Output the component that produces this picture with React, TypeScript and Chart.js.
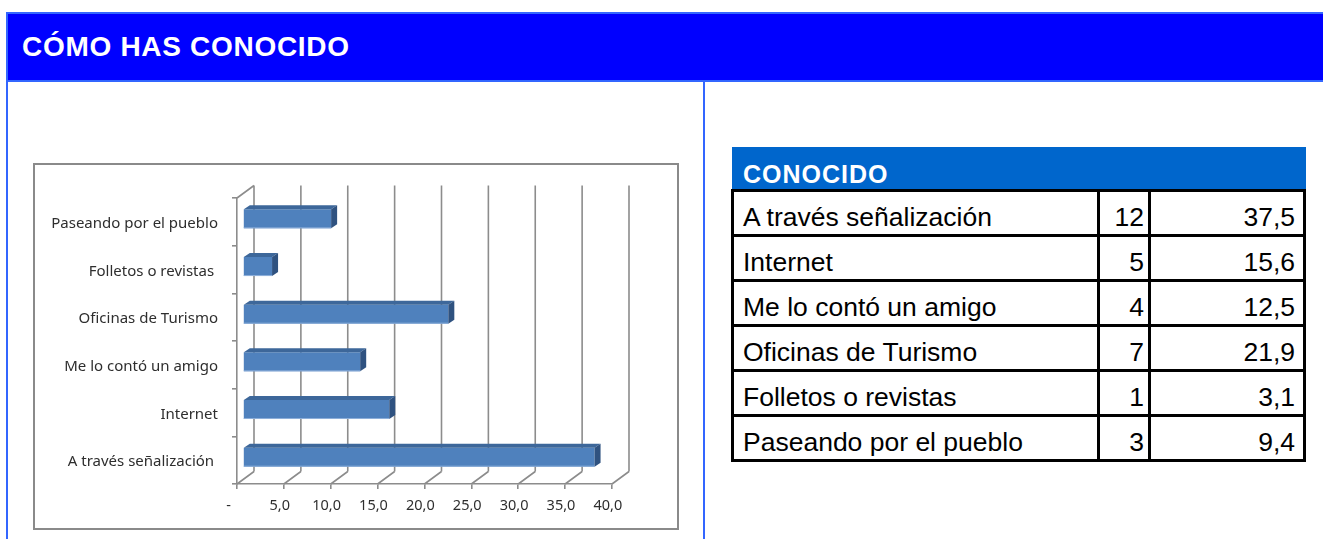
import React, { useEffect, useRef } from "react";
import { Chart, registerables } from "chart.js";

Chart.register(...registerables);

// Survey answers, in table order (the chart lists them bottom-up).
const TITLE = "CÓMO HAS CONOCIDO";
const TABLE_TITLE = "CONOCIDO";
const categories = [
  "A través señalización ",
  "Internet",
  "Me lo contó un amigo",
  "Oficinas de Turismo",
  "Folletos o revistas ",
  "Paseando por el pueblo",
];
const counts = [12, 5, 4, 7, 1, 3];
const percents = [37.5, 15.6, 12.5, 21.9, 3.1, 9.4];
const xMin = 0;
const xMax = 40;
const xStep = 5;

// Styling / 3D depth
const GRID = "#8c8c8c";
const LABEL = "#2e2e2e";
const BAR_FRONT = "#4f81bd";
const BAR_TOP = "#3d679a";
const BAR_SIDE = "#2f5280";
const BAR_EDGE = "#8fb0da";
const WALL_DX = 17;
const WALL_DY = -12.5;
const BAR_SHIFT_DX = 6;
const BAR_SHIFT_DY = -3;
const BAR_DEPTH_DX = 6;
const BAR_DEPTH_DY = -4;
const FONT = "'Noto Sans', sans-serif";
const BORDER_BLUE = "#3366ff";
const FIG_SPACE = "\u2007";

const fmt = (v: number) => v.toFixed(1).replace(".", ",");

const depthPlugin = {
  id: "depth3d",
  beforeDatasetsDraw(chart: any) {
    const { ctx, chartArea: a, scales } = chart;
    const xs = scales.x;
    ctx.save();
    ctx.strokeStyle = GRID;
    ctx.lineWidth = 1.6;
    ctx.beginPath();
    xs.ticks.forEach((t: any) => {
      const px = xs.getPixelForValue(t.value);
      // back wall line
      ctx.moveTo(px + WALL_DX, a.top + WALL_DY);
      ctx.lineTo(px + WALL_DX, a.bottom + WALL_DY);
      // floor edge
      ctx.moveTo(px, a.bottom);
      ctx.lineTo(px + WALL_DX, a.bottom + WALL_DY);
    });
    // top edge of the side wall
    ctx.moveTo(a.left, a.top);
    ctx.lineTo(a.left + WALL_DX, a.top + WALL_DY);
    ctx.stroke();
    ctx.restore();
  },
  beforeDatasetDraw(chart: any) {
    chart.ctx.save();
    chart.ctx.translate(BAR_SHIFT_DX, BAR_SHIFT_DY);
  },
  afterDatasetDraw(chart: any, args: any) {
    const ctx = chart.ctx;
    args.meta.data.forEach((bar: any) => {
      const { x, y, base, height } = bar.getProps(["x", "y", "base", "height"], true);
      const top = y - height / 2;
      const bottom = y + height / 2;
      // top face
      ctx.fillStyle = BAR_TOP;
      ctx.beginPath();
      ctx.moveTo(base, top);
      ctx.lineTo(x, top);
      ctx.lineTo(x + BAR_DEPTH_DX, top + BAR_DEPTH_DY);
      ctx.lineTo(base + BAR_DEPTH_DX, top + BAR_DEPTH_DY);
      ctx.closePath();
      ctx.fill();
      // end face
      ctx.fillStyle = BAR_SIDE;
      ctx.beginPath();
      ctx.moveTo(x, top);
      ctx.lineTo(x + BAR_DEPTH_DX, top + BAR_DEPTH_DY);
      ctx.lineTo(x + BAR_DEPTH_DX, bottom + BAR_DEPTH_DY);
      ctx.lineTo(x, bottom);
      ctx.closePath();
      ctx.fill();
      // light lower edge of the front face
      ctx.strokeStyle = BAR_EDGE;
      ctx.lineWidth = 1;
      ctx.beginPath();
      ctx.moveTo(base, bottom - 0.5);
      ctx.lineTo(x, bottom - 0.5);
      ctx.stroke();
    });
    ctx.restore();
  },
};

function BarChart() {
  const ref = useRef<HTMLCanvasElement | null>(null);
  useEffect(() => {
    if (!ref.current) return;
    const labels = [...categories].reverse();
    const values = [...percents].reverse();
    const chart = new Chart(ref.current, {
      type: "bar",
      data: {
        labels,
        datasets: [
          {
            data: values,
            backgroundColor: BAR_FRONT,
            borderWidth: 0,
            barPercentage: 0.4,
            categoryPercentage: 1,
            clip: false as any,
          },
        ],
      },
      options: {
        animation: false,
        responsive: false,
        indexAxis: "y",
        layout: { padding: { top: 33, right: 65, bottom: 0, left: 0 } },
        plugins: { legend: { display: false }, tooltip: { enabled: false } },
        scales: {
          x: {
            type: "linear",
            position: "bottom",
            min: xMin,
            max: xMax,
            ticks: {
              stepSize: xStep,
              autoSkip: false,
              maxRotation: 0,
              color: LABEL,
              padding: 8,
              font: { family: FONT, size: 14.5 },
              callback: (v: any) =>
                Number(v) === 0 ? "-" + FIG_SPACE + FIG_SPACE : fmt(Number(v)) + FIG_SPACE,
            },
            grid: { drawOnChartArea: false, drawTicks: true, tickLength: 5, color: GRID, lineWidth: 1.6 },
            border: { display: true, color: GRID, width: 1.6 },
            afterFit: (s: any) => {
              s.height = 44;
            },
          },
          y: {
            type: "category",
            position: "left",
            ticks: {
              autoSkip: false,
              color: LABEL,
              padding: 14,
              labelOffset: 2,
              font: { family: FONT, size: 15 },
            },
            grid: {
              drawOnChartArea: false,
              drawTicks: true,
              tickLength: 5,
              color: GRID,
              lineWidth: 1.6,
              offset: true,
            },
            border: { display: true, color: GRID, width: 1.6 },
            afterFit: (s: any) => {
              s.width = 202;
            },
          },
        },
      },
      plugins: [depthPlugin],
    });
    return () => chart.destroy();
  }, []);
  return <canvas ref={ref} width={642} height={363} style={{ display: "block" }} />;
}

const abs = (o: React.CSSProperties): React.CSSProperties => ({ position: "absolute", ...o });

export default function App() {
  const tableLeft = 731;
  const tableRight = 1306;
  const rowTop = 190;
  const rowH = 45;
  const colLines = [731, 1097, 1148, 1303];
  const cellText: React.CSSProperties = {
    height: rowH,
    lineHeight: `${rowH}px`,
    fontFamily: "'Liberation Sans', Arial, sans-serif",
    fontSize: 26.5,
    color: "#000",
    whiteSpace: "nowrap",
  };
  return (
    <div style={abs({ left: 0, top: 0, width: 1323, height: 539, background: "#fff", overflow: "hidden" })}>
      {/* heading band */}
      <div
        style={abs({
          left: 6,
          top: 12,
          width: 1330,
          height: 70,
          boxSizing: "border-box",
          border: `2px solid ${BORDER_BLUE}`,
          background: "#0000ff",
        })}
      />
      <div
        style={abs({
          left: 22,
          top: 33,
          lineHeight: "28px",
          fontFamily: "'Liberation Sans', Arial, sans-serif",
          fontWeight: 700,
          fontSize: 28,
          letterSpacing: "0.7px",
          color: "#fff",
          whiteSpace: "nowrap",
        })}
      >
        {TITLE}
      </div>
      {/* panel frame */}
      <div style={abs({ left: 6, top: 82, width: 2, height: 460, background: BORDER_BLUE })} />
      <div style={abs({ left: 703, top: 82, width: 2, height: 460, background: BORDER_BLUE })} />

      {/* chart box */}
      <div
        style={abs({
          left: 33,
          top: 163,
          width: 646,
          height: 367,
          boxSizing: "border-box",
          border: "2px solid #8a8a8a",
          background: "#fff",
        })}
      >
        <BarChart />
      </div>

      {/* table */}
      <div style={abs({ left: 732, top: 147, width: 574, height: 43, background: "#0066cc" })} />
      <div
        style={abs({
          left: 743,
          top: 153,
          lineHeight: "43px",
          fontFamily: "'Liberation Sans', Arial, sans-serif",
          fontWeight: 700,
          fontSize: 25,
          letterSpacing: "1px",
          color: "#fff",
          whiteSpace: "nowrap",
        })}
      >
        {TABLE_TITLE}
      </div>
      {categories.map((c, i) => (
        <React.Fragment key={c}>
          <div style={abs({ ...cellText, left: 743, top: rowTop + rowH * i + 5 })}>{c.trim()}</div>
          <div style={abs({ ...cellText, left: 1100, width: 44, textAlign: "right", top: rowTop + rowH * i + 5 })}>
            {counts[i]}
          </div>
          <div style={abs({ ...cellText, left: 1152, width: 143, textAlign: "right", top: rowTop + rowH * i + 5 })}>
            {fmt(percents[i])}
          </div>
        </React.Fragment>
      ))}
      {Array.from({ length: categories.length + 1 }, (_, i) => (
        <div
          key={"h" + i}
          style={abs({
            left: tableLeft,
            top: rowTop - 1 + rowH * i,
            width: tableRight - tableLeft,
            height: 3,
            background: "#000",
          })}
        />
      ))}
      {colLines.map((x) => (
        <div
          key={"v" + x}
          style={abs({ left: x, top: rowTop - 1, width: 3, height: rowH * categories.length + 3, background: "#000" })}
        />
      ))}
    </div>
  );
}
